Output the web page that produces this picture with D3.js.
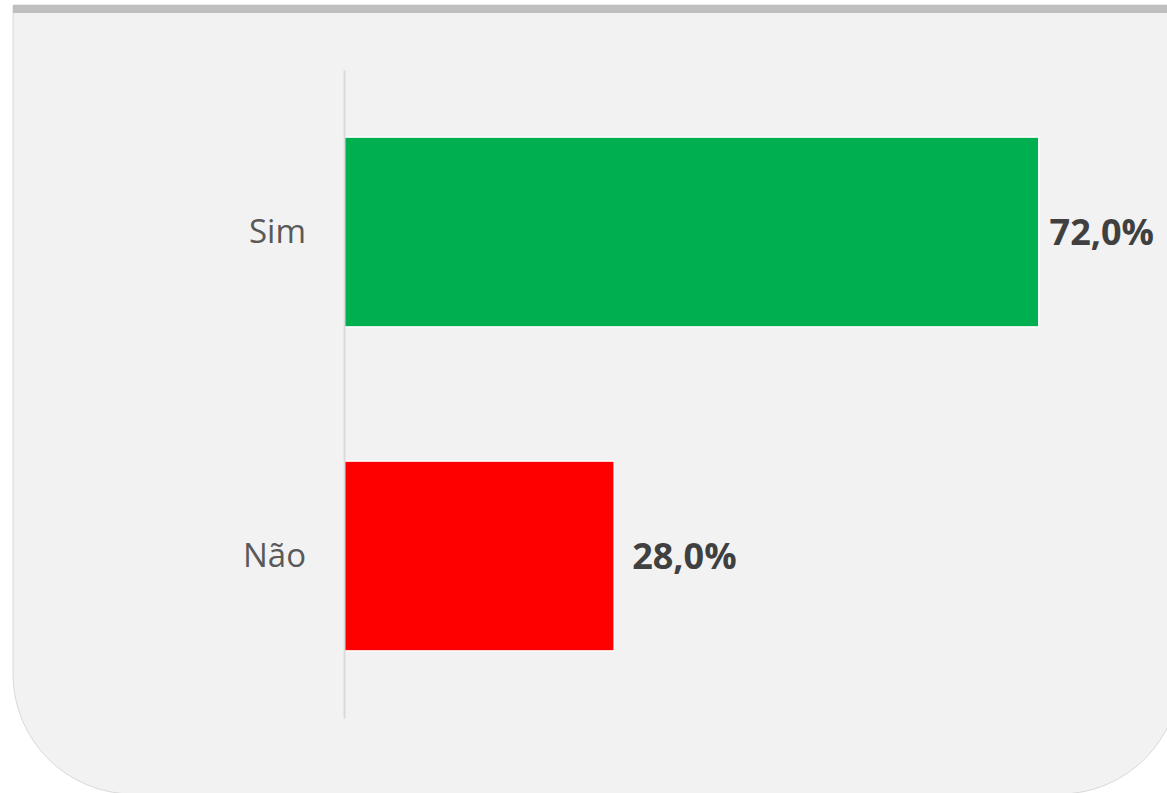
<!DOCTYPE html>
<html>
<head>
<meta charset="utf-8">
<script src="https://cdn.jsdelivr.net/npm/d3@7"></script>
<style>
  body { margin: 0; background: #fff; }
  svg { display: block; }
</style>
</head>
<body>
<div id="chart-area"></div>
<script>
// data
var categories = ["Sim", "Não"];
var values = [72.0, 28.0];
var barColors = ["#00b050", "#ff0000"];

var W = 1167, H = 793;

var svg = d3.select("#chart-area").append("svg")
    .attr("width", W)
    .attr("height", H);

// card background with rounded bottom corners
var pL = 13, pT = 5, pR = 1180, pB = 794, rad = 120;
svg.append("path")
    .attr("d", "M" + pL + "," + pT + " H" + pR + " V" + (pB - rad) +
        " A" + rad + "," + rad + " 0 0 1 " + (pR - rad) + "," + pB +
        " H" + (pL + rad) +
        " A" + rad + "," + rad + " 0 0 1 " + pL + "," + (pB - rad) + " Z")
    .attr("fill", "#f2f2f2")
    .attr("stroke", "#d9d9d9")
    .attr("stroke-width", 1);

svg.append("rect")
    .attr("x", pL)
    .attr("y", pT)
    .attr("width", pR - pL)
    .attr("height", 8)
    .attr("fill", "#bfbfbf");

var x0 = 344;

var x = d3.scaleLinear()
    .domain([0, 100])
    .range([x0, x0 + 965]);

var y = d3.scaleBand()
    .domain(categories)
    .range([70, 718])
    .paddingInner(0.414)
    .paddingOuter(0.207);

var g = svg.append("g");

// bars
g.selectAll("rect.bar")
    .data(categories)
    .enter()
    .append("rect")
        .attr("class", "bar")
        .attr("x", x(0))
        .attr("y", (d) => y(d))
        .attr("width", (d, i) => x(values[i]) - x(0))
        .attr("height", y.bandwidth())
        .attr("fill", (d, i) => barColors[i])
        .attr("stroke", "#ffffff")
        .attr("stroke-width", 1.5);

// category axis
var axis = g.append("g")
    .attr("transform", "translate(" + x0 + ",0)")
    .call(d3.axisLeft(y).tickSize(0).tickPadding(38));

axis.select(".domain")
    .attr("stroke", "#d9d9d9")
    .attr("stroke-width", 2);

axis.selectAll("text")
    .attr("fill", "#595959")
    .style("font-family", "'Open Sans', 'Noto Sans', sans-serif")
    .style("font-size", "33px");

// value labels
var maxRight = 1154;
g.selectAll("text.val")
    .data(categories)
    .enter()
    .append("text")
        .attr("class", "val")
        .attr("y", (d) => y(d) + y.bandwidth() / 2)
        .attr("dy", "0.36em")
        .attr("fill", "#404040")
        .style("font-family", "'Open Sans', 'Noto Sans', sans-serif")
        .style("font-size", "36px")
        .style("font-weight", "bold")
        .text((d, i) => values[i].toFixed(1).replace(".", ",") + "%")
        .each(function(d, i) {
            var t = d3.select(this);
            var w = this.getComputedTextLength();
            var px = x(values[i]) + 18;
            if (px + w > maxRight) px = maxRight - w;
            t.attr("x", px);
        });
</script>
</body>
</html>
